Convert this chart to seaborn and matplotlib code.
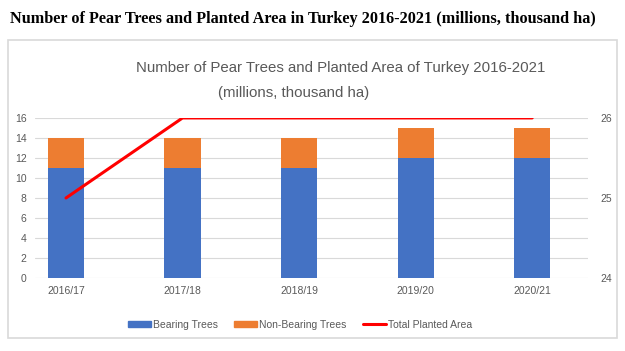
import numpy as np
import matplotlib.pyplot as plt
import seaborn as sns
import pandas as pd
from matplotlib.patches import Rectangle, Patch
from matplotlib.lines import Line2D

seasons = ["2016/17", "2017/18", "2018/19", "2019/20", "2020/21"]
bearing = [11, 11, 11, 12, 12]
non_bearing = [3, 3, 3, 3, 3]
planted_area = [25, 26, 26, 26, 26]

blue = "#4472C4"
orange = "#ED7D31"
red = "#FF0000"
grey = "#595959"


def main():
    sns.set_style("white")
    plt.rcParams['font.family'] = ['Liberation Sans', 'DejaVu Sans']

    df = pd.DataFrame({
        "season": seasons,
        "bearing": bearing,
        "total": np.array(bearing) + np.array(non_bearing),
        "area": planted_area,
    })

    fig = plt.figure(figsize=(6.25, 3.51), dpi=100)
    ax = fig.add_axes([0.056, 0.208, 0.885, 0.456])

    # outer frame round the chart
    fig.patches.append(Rectangle((0.013, 0.037), 0.974, 0.848, transform=fig.transFigure,
                                 fill=False, edgecolor="#d9d9d9", linewidth=1.2))

    sns.barplot(data=df, x="season", y="total", color=orange, width=0.31,
                saturation=1, linewidth=0, ax=ax, zorder=2)
    sns.barplot(data=df, x="season", y="bearing", color=blue, width=0.31,
                saturation=1, linewidth=0, ax=ax, zorder=3)

    ax.set_ylim(0, 16)
    ax.set_yticks(range(0, 17, 2))
    ax.set_xlim(-0.266, 4.48)
    ax.yaxis.grid(True, color="#d9d9d9", linewidth=0.8)
    ax.set_axisbelow(True)
    ax.set_xlabel("")
    ax.set_ylabel("")
    for s in ax.spines.values():
        s.set_visible(False)
    ax.tick_params(axis="both", length=0, labelsize=7.5, colors=grey, pad=6)

    ax2 = ax.twinx()
    sns.lineplot(x=list(range(len(seasons))), y=planted_area, color=red, linewidth=2.2,
                 ax=ax2, zorder=5)
    ax2.set_ylim(24, 26)
    ax2.set_yticks([24, 25, 26])
    for s in ax2.spines.values():
        s.set_visible(False)
    ax2.tick_params(axis="y", length=0, labelsize=7.5, colors=grey, pad=9)

    fig.text(0.016, 0.945, "Number of Pear Trees and Planted Area in Turkey 2016-2021 (millions, thousand ha)",
             fontsize=11.7, fontweight="bold", family=["Liberation Serif", "DejaVu Serif"],
             ha="left", va="center", color="black")
    fig.text(0.545, 0.805, "Number of Pear Trees and Planted Area of Turkey 2016-2021",
             fontsize=10.8, color=grey, ha="center", va="center")
    fig.text(0.349, 0.735, "(millions, thousand ha)",
             fontsize=10.8, color=grey, ha="left", va="center")

    handles = [Patch(color=blue), Patch(color=orange), Line2D([], [], color=red, linewidth=2.2)]
    labels = ["Bearing Trees", "Non-Bearing Trees", "Total Planted Area"]
    fig.legend(handles, labels, loc="center", bbox_to_anchor=(0.48, 0.075), ncol=3,
               frameon=False, fontsize=7.5, handlelength=2.2, handleheight=0.5,
               handletextpad=0.2, columnspacing=1.6, labelcolor=grey)

    fig.savefig("out.png", dpi=100)


if __name__ == "__main__":
    main()
